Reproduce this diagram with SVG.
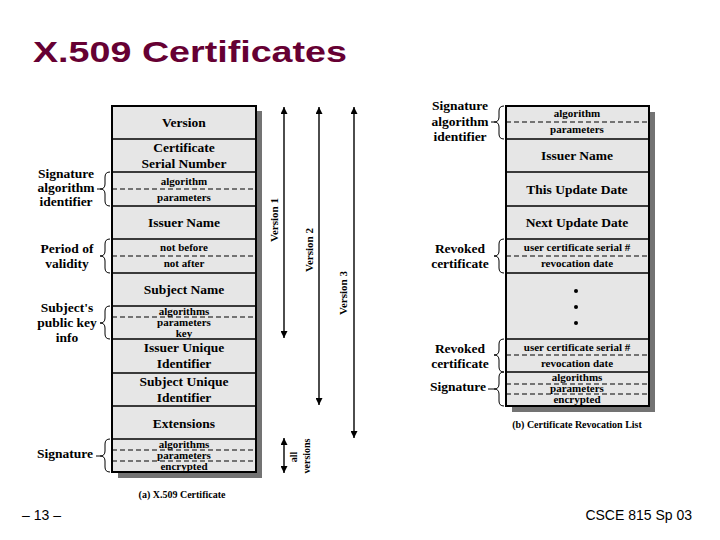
<svg xmlns="http://www.w3.org/2000/svg" width="720" height="540" viewBox="0 0 720 540">
<style>
.t{font-family:"Liberation Serif","Times New Roman",serif;font-weight:bold;fill:#000;text-anchor:middle}
.L{font-size:13.5px}
.S{font-size:11px}
.lab{font-size:13.5px}
.rot{font-size:11px}
.cap{font-size:10px}
.box{fill:#e6e6e6;stroke:none}
.frame{fill:none;stroke:#000;stroke-width:2}
.div{stroke:#000;stroke-width:1.5}
.dash{stroke:#000;stroke-width:1.2;stroke-dasharray:5,3}
.shadow{fill:#737373}
.brace{fill:none;stroke:#000;stroke-width:1}
.arr{stroke:#000;stroke-width:1.4;fill:none}
.sans{font-family:"Liberation Sans",Arial,sans-serif}
</style>
<defs>
<marker id="ah" viewBox="0 0 10 10" refX="10" refY="5" markerWidth="7" markerHeight="7" orient="auto-start-reverse" markerUnits="userSpaceOnUse">
<path d="M0,0 L10,5 L0,10 z" fill="#000"/>
</marker>
</defs>
<rect width="720" height="540" fill="#fff"/>
<text id="title" class="sans" x="33" y="62" font-size="30" font-weight="bold" fill="#660033" textLength="314" lengthAdjust="spacingAndGlyphs">X.509 Certificates</text>

<!-- (a) X.509 Certificate -->
<g id="cert">
<rect class="shadow" x="256" y="111" width="6" height="367"/>
<rect class="shadow" x="118" y="472" width="144" height="6"/>
<rect class="box" x="112" y="106" width="144" height="366"/>
<g id="f-version"><text class="t L" x="184" y="127">Version</text></g>
<line class="div" x1="112" y1="139" x2="256" y2="139"/>
<g id="f-serial"><text class="t L" x="184" y="152">Certificate</text><text class="t L" x="184" y="168">Serial Number</text></g>
<line class="div" x1="112" y1="172" x2="256" y2="172"/>
<g id="f-sigalg"><text class="t S" x="184" y="185">algorithm</text>
<line class="dash" x1="112" y1="189" x2="256" y2="189"/>
<text class="t S" x="184" y="201">parameters</text></g>
<line class="div" x1="112" y1="206" x2="256" y2="206"/>
<g id="f-issuer"><text class="t L" x="184" y="227">Issuer Name</text></g>
<line class="div" x1="112" y1="239" x2="256" y2="239"/>
<g id="f-validity"><text class="t S" x="184" y="251">not before</text>
<line class="dash" x1="112" y1="256" x2="256" y2="256"/>
<text class="t S" x="184" y="267">not after</text></g>
<line class="div" x1="112" y1="273" x2="256" y2="273"/>
<g id="f-subject"><text class="t L" x="184" y="294">Subject Name</text></g>
<line class="div" x1="112" y1="306" x2="256" y2="306"/>
<g id="f-pubkey"><text class="t S" x="184" y="315">algorithms</text>
<line class="dash" x1="112" y1="317" x2="256" y2="317"/>
<text class="t S" x="184" y="326">parameters</text>
<text class="t S" x="184" y="337">key</text></g>
<line class="div" x1="112" y1="339" x2="256" y2="339"/>
<g id="f-issuerid"><text class="t L" x="184" y="352">Issuer Unique</text><text class="t L" x="184" y="368">Identifier</text></g>
<line class="div" x1="112" y1="373" x2="256" y2="373"/>
<g id="f-subjectid"><text class="t L" x="184" y="386">Subject Unique</text><text class="t L" x="184" y="402">Identifier</text></g>
<line class="div" x1="112" y1="406" x2="256" y2="406"/>
<g id="f-ext"><text class="t L" x="184" y="428">Extensions</text></g>
<line class="div" x1="112" y1="439" x2="256" y2="439"/>
<g id="f-sig"><text class="t S" x="184" y="448">algorithms</text>
<line class="dash" x1="112" y1="450" x2="256" y2="450"/>
<text class="t S" x="184" y="459">parameters</text>
<line class="dash" x1="112" y1="461" x2="256" y2="461"/>
<text class="t S" x="184" y="470">encrypted</text></g>
<rect class="frame" x="112" y="106" width="144" height="366"/>
<text class="t cap" x="182" y="498">(a) X.509 Certificate</text>
</g>

<!-- left labels -->
<g id="lab-sigalg-a">
<text class="t lab" x="66" y="178">Signature</text>
<text class="t lab" x="66" y="192">algorithm</text>
<text class="t lab" x="66" y="206">identifier</text>
<path class="brace" d="M110,172 Q105,172 105,177 L105,184 Q105,189 100,189 Q105,189 105,194 L105,201 Q105,206 110,206 M97,189 L100,189"/>
</g>
<g id="lab-validity">
<text class="t lab" x="67" y="253">Period of</text>
<text class="t lab" x="67" y="268">validity</text>
<path class="brace" d="M110,239 Q105,239 105,244 L105,251 Q105,256 100,256 Q105,256 105,261 L105,268 Q105,273 110,273"/>
</g>
<g id="lab-pubkey">
<text class="t lab" x="67" y="312">Subject's</text>
<text class="t lab" x="67" y="327">public key</text>
<text class="t lab" x="67" y="342">info</text>
<path class="brace" d="M110,306 Q105,306 105,311 L105,318 Q105,323 100,323 Q105,323 105,328 L105,334 Q105,339 110,339"/>
</g>
<g id="lab-sig-a">
<text class="t lab" x="65" y="458">Signature</text>
<path class="brace" d="M110,439 Q105,439 105,444 L105,451 Q105,456 100,456 Q105,456 105,461 L105,467 Q105,472 110,472 M96,456 L100,456"/>
</g>

<!-- version arrows -->
<g id="connectors">
<line class="arr" x1="284" y1="107" x2="284" y2="338" marker-start="url(#ah)" marker-end="url(#ah)"/>
<line class="arr" x1="319" y1="107" x2="319" y2="405" marker-start="url(#ah)" marker-end="url(#ah)"/>
<line class="arr" x1="354" y1="107" x2="354" y2="438" marker-start="url(#ah)" marker-end="url(#ah)"/>
<line class="arr" x1="284" y1="438" x2="284" y2="473" marker-start="url(#ah)" marker-end="url(#ah)"/>
</g>
<g id="vlabels">
<text class="t rot" transform="translate(278,220) rotate(-90)">Version 1</text>
<text class="t rot" transform="translate(313,250) rotate(-90)">Version 2</text>
<text class="t rot" transform="translate(347,293) rotate(-90)">Version 3</text>
<text class="t cap" transform="translate(297,457) rotate(-90)">all</text>
<text class="t cap" transform="translate(310,456) rotate(-90)">versions</text>
</g>

<!-- (b) CRL -->
<g id="crl">
<rect class="shadow" x="649" y="112" width="6" height="300"/>
<rect class="shadow" x="512" y="406" width="143" height="6"/>
<rect class="box" x="506" y="106" width="143" height="300"/>
<g id="r-sigalg"><text class="t S" x="577" y="117">algorithm</text>
<line class="dash" x1="506" y1="122" x2="649" y2="122"/>
<text class="t S" x="577" y="133">parameters</text></g>
<line class="div" x1="506" y1="139" x2="649" y2="139"/>
<g id="r-issuer"><text class="t L" x="577" y="160">Issuer Name</text></g>
<line class="div" x1="506" y1="172" x2="649" y2="172"/>
<g id="r-this"><text class="t L" x="577" y="194">This Update Date</text></g>
<line class="div" x1="506" y1="206" x2="649" y2="206"/>
<g id="r-next"><text class="t L" x="577" y="227">Next Update Date</text></g>
<line class="div" x1="506" y1="239" x2="649" y2="239"/>
<g id="r-rev1"><text class="t S" x="577" y="251">user certificate serial #</text>
<line class="dash" x1="506" y1="256" x2="649" y2="256"/>
<text class="t S" x="577" y="267">revocation date</text></g>
<line class="div" x1="506" y1="273" x2="649" y2="273"/>
<g id="r-dots"><circle cx="576" cy="291" r="2" fill="#000"/><circle cx="576" cy="307" r="2" fill="#000"/><circle cx="576" cy="323" r="2" fill="#000"/></g>
<line class="div" x1="506" y1="339" x2="649" y2="339"/>
<g id="r-rev2"><text class="t S" x="577" y="351">user certificate serial #</text>
<line class="dash" x1="506" y1="355" x2="649" y2="355"/>
<text class="t S" x="577" y="367">revocation date</text></g>
<line class="div" x1="506" y1="372" x2="649" y2="372"/>
<g id="r-sig"><text class="t S" x="577" y="381">algorithms</text>
<line class="dash" x1="506" y1="384" x2="649" y2="384"/>
<text class="t S" x="577" y="392">parameters</text>
<line class="dash" x1="506" y1="394" x2="649" y2="394"/>
<text class="t S" x="577" y="403">encrypted</text></g>
<rect class="frame" x="506" y="106" width="143" height="300"/>
<text class="t cap" x="577" y="428">(b) Certificate Revocation List</text>
</g>

<!-- right labels -->
<g id="lab-sigalg-b">
<text class="t lab" x="460" y="110">Signature</text>
<text class="t lab" x="460" y="126">algorithm</text>
<text class="t lab" x="460" y="141">identifier</text>
<path class="brace" d="M504,106 Q499,106 499,111 L499,117 Q499,122 494,122 Q499,122 499,127 L499,134 Q499,139 504,139 M491,122 L494,122"/>
</g>
<g id="lab-rev1">
<text class="t lab" x="460" y="253">Revoked</text>
<text class="t lab" x="460" y="268">certificate</text>
<path class="brace" d="M504,239 Q499,239 499,244 L499,251 Q499,256 494,256 Q499,256 499,261 L499,268 Q499,273 504,273"/>
</g>
<g id="lab-rev2">
<text class="t lab" x="460" y="353">Revoked</text>
<text class="t lab" x="460" y="368">certificate</text>
<path class="brace" d="M504,339 Q499,339 499,344 L499,350 Q499,355 494,355 Q499,355 499,360 L499,367 Q499,372 504,372"/>
</g>
<g id="lab-sig-b">
<text class="t lab" x="458" y="391">Signature</text>
<path class="brace" d="M504,372 Q499,372 499,377 L499,384 Q499,389 494,389 Q499,389 499,394 L499,401 Q499,406 504,406 M488,389 L494,389"/>
</g>

<text id="page" class="sans" x="22" y="520" font-size="14">– 13 –</text>
<text id="course" class="sans" x="692" y="520" font-size="14" text-anchor="end">CSCE 815 Sp 03</text>
</svg>
